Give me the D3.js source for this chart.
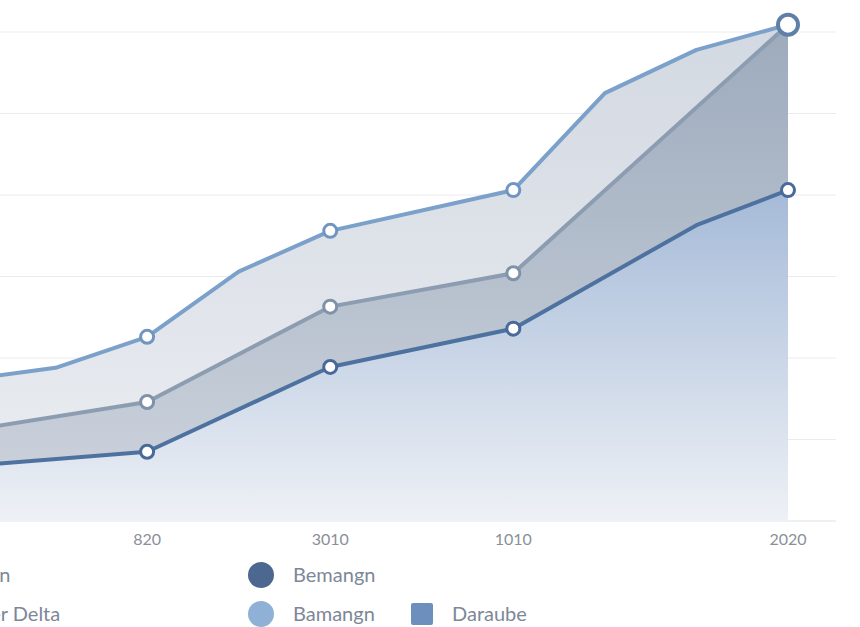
<!DOCTYPE html>
<html>
<head>
<meta charset="utf-8">
<script src="https://cdn.jsdelivr.net/npm/d3@7"></script>
<style>
  body { margin: 0; background: #fff; }
  svg { display: block; font-family: Lato, "Open Sans", sans-serif; }
</style>
</head>
<body>
<div id="chart"></div>
<script>
// x positions are steps along the axis, ticks labelled at some of them
var tickPos = [2, 4, 6, 9];
var tickLabels = ["820", "3010", "1010", "2020"];

// series values
var upperX = [0, 1, 2, 3, 4, 6, 7, 8, 9];
var upperY = [17.3, 18.8, 22.6, 30.6, 35.6, 40.6, 52.5, 57.8, 60.9];
var upperMarks = [2, 4, 6];

var midX = [0, 2, 4, 6, 9];
var midY = [11.0, 14.6, 26.3, 30.4, 60.9];
var midMarks = [2, 4, 6];

var lowX = [0, 2, 4, 6, 8, 9];
var lowY = [6.7, 8.5, 18.9, 23.6, 36.3, 40.6];
var lowMarks = [2, 4, 6, 9];

var yTicks = [0, 10, 20, 30, 40, 50, 60];

var legendLeft = ["Basin", "River Delta"];
var legendMid = ["Bemangn", "Bamangn"];
var legendRight = ["Daraube"];

var width = 860, height = 627;

var svg = d3.select("#chart").append("svg")
    .attr("width", width)
    .attr("height", height);

var x = d3.scaleLinear().domain([0, 9]).range([-36, 788]);
var y = d3.scaleLinear().domain([0, 60]).range([521, 32]);

function pts(xs, ys) {
  return xs.map(function(d, i) { return {x: d, y: ys[i]}; });
}
var upper = pts(upperX, upperY);
var mid = pts(midX, midY);
var low = pts(lowX, lowY);

// gradients
var defs = svg.append("defs");
function grad(id, top, bottom, y1, y2) {
  var g = defs.append("linearGradient").attr("id", id)
      .attr("gradientUnits", "userSpaceOnUse")
      .attr("x1", 0).attr("x2", 0).attr("y1", y1).attr("y2", y2);
  g.append("stop").attr("offset", "0%").attr("stop-color", top);
  g.append("stop").attr("offset", "100%").attr("stop-color", bottom);
}
grad("gUpper", "#d3d9e2", "#eceef2", y(60), y(0));
grad("gMid", "#9dabbd", "#cfd5de", y(60), y(0));
grad("gLow", "#a6bbd8", "#eef1f6", y(40), y(0));

// grid
svg.append("g").selectAll("line")
  .data(yTicks)
  .enter().append("line")
  .attr("x1", 0).attr("x2", 836)
  .attr("y1", function(d) { return y(d); })
  .attr("y2", function(d) { return y(d); })
  .attr("stroke", function(d) { return d == 0 ? "#e0e2e7" : "#ebebef"; })
  .attr("stroke-width", 1.2);

var area = d3.area()
  .x(function(d) { return x(d.x); })
  .y0(y(0))
  .y1(function(d) { return y(d.y); });

var line = d3.line()
  .x(function(d) { return x(d.x); })
  .y(function(d) { return y(d.y); });

svg.append("path").datum(upper).attr("d", area).attr("fill", "url(#gUpper)");
svg.append("path").datum(mid).attr("d", area).attr("fill", "url(#gMid)");
svg.append("path").datum(low).attr("d", area).attr("fill", "url(#gLow)");

function drawLine(data, color, w) {
  svg.append("path").datum(data)
    .attr("d", line)
    .attr("fill", "none")
    .attr("stroke", color)
    .attr("stroke-width", w)
    .attr("stroke-linejoin", "round")
    .attr("stroke-linecap", "round");
}
drawLine(upper, "#7ba1ca", 4);
drawLine(mid, "#8d9db1", 4);
drawLine(low, "#4e72a0", 4);

function drawMarks(data, marks, color) {
  svg.append("g").selectAll("circle")
    .data(data.filter(function(d) { return marks.indexOf(d.x) >= 0; }))
    .enter().append("circle")
    .attr("cx", function(d) { return x(d.x); })
    .attr("cy", function(d) { return y(d.y); })
    .attr("r", 6.5)
    .attr("fill", "#fff")
    .attr("stroke", color)
    .attr("stroke-width", 3);
}
drawMarks(upper, upperMarks, "#6f95c0");
drawMarks(mid, midMarks, "#7f92a9");
drawMarks(low, lowMarks, "#48699a");

// big end marker
svg.append("circle")
  .attr("cx", x(9)).attr("cy", y(upperY[upperY.length - 1]))
  .attr("r", 10)
  .attr("fill", "#fff")
  .attr("stroke", "#5e7fa8")
  .attr("stroke-width", 4);

// x labels
svg.append("g").selectAll("text")
  .data(tickPos)
  .enter().append("text")
  .attr("x", function(d) { return x(d); })
  .attr("y", 545)
  .attr("text-anchor", "middle")
  .attr("font-size", 16)
  .attr("fill", "#8a8f99")
  .text(function(d, i) { return tickLabels[i]; });

// legend
var legendColors = ["#4c6790", "#8fb1d5"];
var lg = svg.append("g").attr("font-size", 20).attr("fill", "#7d8798");

legendLeft.forEach(function(t, i) {
  lg.append("circle").attr("cx", -75).attr("cy", 575 + i * 39).attr("r", 13)
    .attr("fill", legendColors[i]);
  lg.append("text").attr("x", -37).attr("y", 582 + i * 39).text(t);
});
legendMid.forEach(function(t, i) {
  lg.append("circle").attr("cx", 261).attr("cy", 575 + i * 39).attr("r", 13)
    .attr("fill", legendColors[i]);
  lg.append("text").attr("x", 293).attr("y", 582 + i * 39).text(t);
});
legendRight.forEach(function(t) {
  lg.append("rect").attr("x", 411).attr("y", 603).attr("width", 22).attr("height", 22)
    .attr("rx", 2).attr("fill", "#6d8fbd");
  lg.append("text").attr("x", 452).attr("y", 621).text(t);
});
</script>
</body>
</html>
